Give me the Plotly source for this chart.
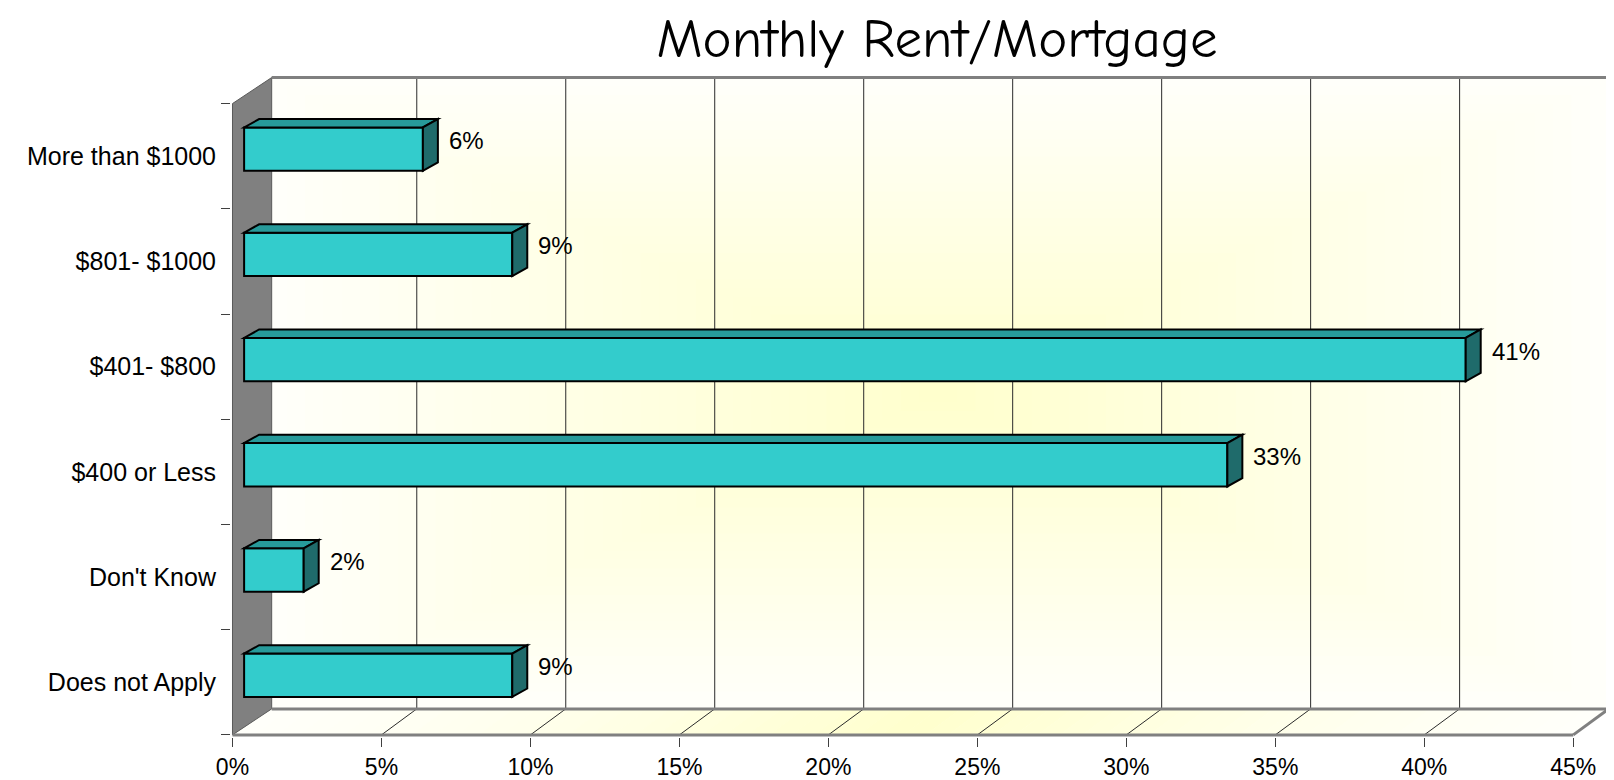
import plotly.graph_objects as go

# data
categories = ["Does not Apply", "Don't Know", "$400 or Less", "$401- $800", "$801- $1000", "More than $1000"]
values = [9, 2, 33, 41, 9, 6]
x_ticks = [0, 5, 10, 15, 20, 25, 30, 35, 40, 45]
x_ticklabels = ["0%", "5%", "10%", "15%", "20%", "25%", "30%", "35%", "40%", "45%"]
title_text = "Monthly Rent/Mortgage"

# the page body has an 8px margin, so the figure sits at (8, 8)
OFF = 8
W, H = 1614 - OFF, 780 - OFF

# pseudo 3d geometry (data units)
PXX = 29.78      # px per percent
PXY = 105.17     # px per category
X0PX = 232.7 - OFF
Y0PX = 735.0 - OFF
DX = 35.3 / PXX  # depth of the walls
DY = 26.0 / PXY
FX = 0.39        # bar front plane offset
FY = 0.067
BW = 0.412       # bar thickness
DXB = 15.0 / PXX # bar depth
DYB = 8.4 / PXY
XMAX = 45

xr = [-0.05, 46.3]
yr = [-0.52, 5.8]
ml = X0PX + xr[0] * PXX
pw = (xr[1] - xr[0]) * PXX
mr = W - ml - pw
mb = H - (Y0PX - (yr[0] + 0.5) * PXY)
mt = Y0PX - (yr[1] + 0.5) * PXY

ypos = list(range(len(categories)))


def mix(t, c0=(255, 255, 250), c1=(255, 255, 205)):
    return "rgb(%d,%d,%d)" % tuple(round(a + (b - a) * t) for a, b in zip(c0, c1))


def poly(pts):
    return "M " + " L ".join("%f,%f" % p for p in pts) + " Z"


shapes = []

# back wall gradient (rectangular, from center)
bx0, bx1 = DX, XMAX + DX
by0, by1 = -0.5 + DY, 5.5 + DY
cx, cy = (bx0 + bx1) / 2, (by0 + by1) / 2
N = 36
for k in range(N):
    s = 1 - k / N
    hx, hy = (bx1 - bx0) / 2 * s, (by1 - by0) / 2 * s
    shapes.append(dict(type="rect", xref="x", yref="y", layer="below",
                       x0=cx - hx, x1=cx + hx, y0=cy - hy, y1=cy + hy,
                       fillcolor=mix(k / (N - 1)), line_width=0))

# floor gradient strips
NS = 60
fcx = XMAX / 2
for k in range(NS):
    a = XMAX * k / NS
    b = XMAX * (k + 1) / NS
    t = 1 - abs((a + b) / 2 - fcx) / fcx
    shapes.append(dict(type="path", xref="x", yref="y", layer="below",
                       path=poly([(a, -0.5), (b + 0.02, -0.5), (b + 0.02 + DX, -0.5 + DY), (a + DX, -0.5 + DY)]),
                       fillcolor=mix(t ** 1.3), line_width=0))

# left wall
shapes.append(dict(type="path", xref="x", yref="y", layer="below",
                   path=poly([(0, -0.5), (0, 5.5), (DX + 0.13, 5.5 + DY), (DX + 0.13, -0.5 + DY)]),
                   fillcolor="#808080", line=dict(color="#5a5a5a", width=1)))

# gridlines on back wall and floor
for v in x_ticks[1:-1]:
    shapes.append(dict(type="line", xref="x", yref="y", layer="below",
                       x0=v + DX, x1=v + DX, y0=-0.5 + DY, y1=5.5 + DY,
                       line=dict(color="#2b2b2b", width=1)))
    shapes.append(dict(type="line", xref="x", yref="y", layer="below",
                       x0=v, x1=v + DX, y0=-0.5, y1=-0.5 + DY,
                       line=dict(color="#2b2b2b", width=1)))

# wall / floor edges
edge = dict(color="#808080", width=3)
for (xa, ya, xb, yb) in [
    (DX + 0.13, 5.5 + DY, XMAX + DX, 5.5 + DY),
    (XMAX + DX, 5.5 + DY, XMAX + DX, -0.5 + DY),
    (DX + 0.13, -0.5 + DY, XMAX + DX, -0.5 + DY),
    (XMAX, -0.5, XMAX + DX, -0.5 + DY),
    (0, -0.5, XMAX, -0.5),
]:
    shapes.append(dict(type="line", xref="x", yref="y", layer="below",
                       x0=xa, x1=xb, y0=ya, y1=yb, line=edge))

# bar top and side faces
annotations = []
for i, v in zip(ypos, values):
    x0 = FX
    x1 = FX + v
    yt = i + FY + BW / 2
    yb = i + FY - BW / 2
    shapes.append(dict(type="path", xref="x", yref="y", layer="above",
                       path=poly([(x0, yt), (x1, yt), (x1 + DXB, yt + DYB), (x0 + DXB, yt + DYB)]),
                       fillcolor="#279A9A", line=dict(color="black", width=2)))
    shapes.append(dict(type="path", xref="x", yref="y", layer="above",
                       path=poly([(x1, yb), (x1, yt), (x1 + DXB, yt + DYB), (x1 + DXB, yb + DYB)]),
                       fillcolor="#1F6B6B", line=dict(color="black", width=2)))
    annotations.append(dict(x=x1 + DXB + 0.3, y=i + FY + 0.08, xref="x", yref="y",
                            text="%d%%" % v, showarrow=False, xanchor="left", yanchor="middle",
                            font=dict(family="Liberation Sans, Arial", size=24, color="black")))

fig = go.Figure()
fig.add_trace(go.Bar(
    y=ypos, x=values, base=FX, orientation="h",
    width=BW, offset=FY - BW / 2,
    marker=dict(color="#33CCCC", line=dict(color="black", width=2)),
    hoverinfo="skip",
))

fig.update_layout(
    width=W, height=H,
    margin=dict(l=ml, r=mr, t=mt, b=mb, pad=0, autoexpand=False),
    paper_bgcolor="white", plot_bgcolor="white",
    showlegend=False,
    shapes=shapes,
    annotations=annotations,
    title=dict(text=title_text, x=(937 - OFF) / W, xref="container", xanchor="center",
               y=1 - (38 - OFF) / H, yref="container", yanchor="middle",
               font=dict(family="Comic Sans MS, Comic Neue, DejaVu Sans", size=55, color="black")),
    xaxis=dict(range=xr, tickmode="array", tickvals=x_ticks, ticktext=x_ticklabels,
               ticks="outside", ticklen=9, tickcolor="#404040", tickwidth=1,
               showgrid=False, zeroline=False, showline=False,
               tickfont=dict(family="Liberation Sans, Arial", size=23, color="black")),
    yaxis=dict(range=yr, tickmode="array", tickvals=ypos, ticktext=categories,
               ticks="outside", ticklen=9, tickcolor="rgba(0,0,0,0)",
               minor=dict(tickmode="array", tickvals=[-0.5 + k for k in range(len(categories) + 1)],
                          ticks="outside", ticklen=9, tickcolor="#404040", showgrid=False),
               showgrid=False, zeroline=False, showline=False,
               tickfont=dict(family="Liberation Sans, Arial", size=25, color="black")),
)

fig.write_html("out.html")
